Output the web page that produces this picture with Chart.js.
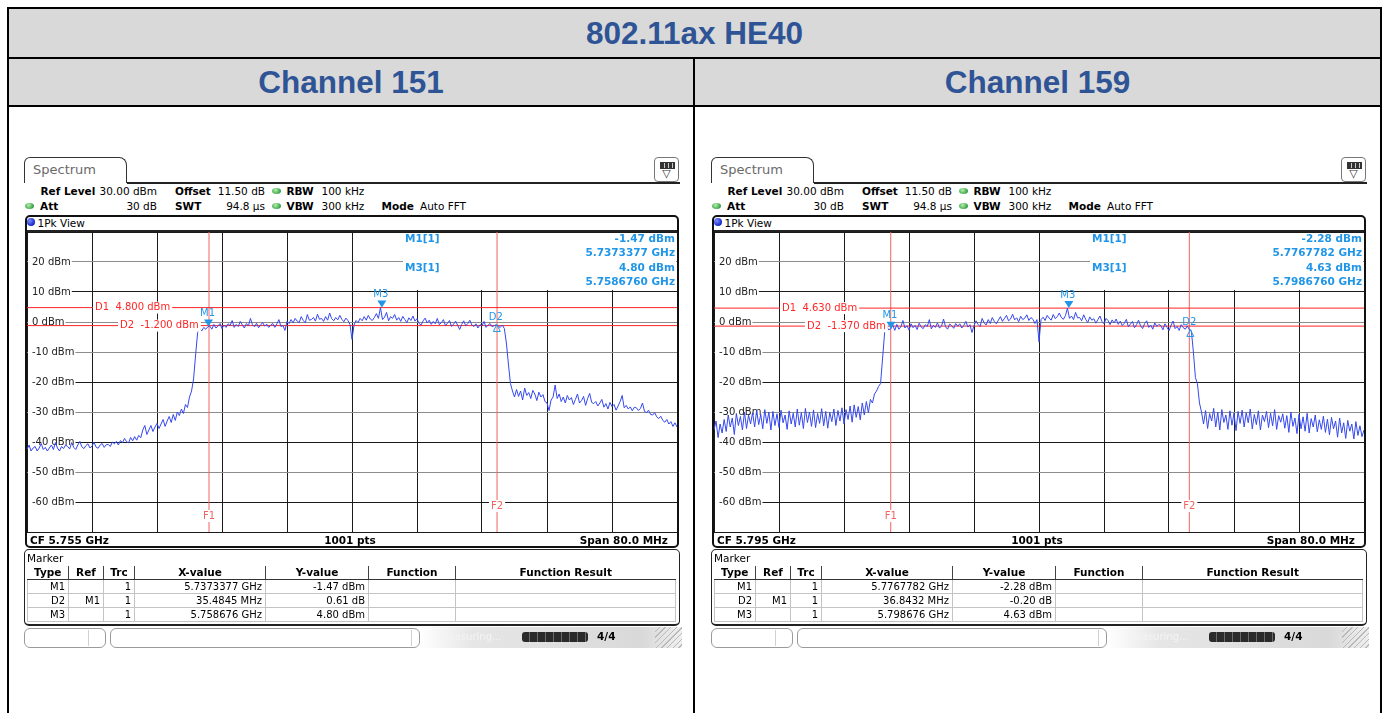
<!DOCTYPE html>
<html>
<head>
<meta charset="utf-8">
<title>802.11ax HE40</title>
<script src="https://cdn.jsdelivr.net/npm/chart.js@4.4.1/dist/chart.umd.min.js"></script>
<style>
body { margin: 0; background: #fff; font-family: "DejaVu Sans", sans-serif; }
#page { position: relative; width: 1388px; height: 713px; overflow: hidden; }
.ln { position: absolute; background: #000; }
.cap { position: absolute; background: #d9d9d9; color: #2f5496; font: bold 31.5px "Liberation Sans", Arial, sans-serif;
       display: flex; align-items: center; justify-content: center; }
.pan { position: absolute; left: 0; top: 0; width: 700px; height: 713px; }
.tx { position: absolute; white-space: nowrap; font-size: 10.5px; line-height: 14px; color: #000; }
.b { font-weight: bold; }
.r { transform: translateX(-100%); }
.c { transform: translateX(-50%); }
.spec { font-size: 13px; color: #6a6a6a; }
.dot { position: absolute; width: 9px; height: 6px; border-radius: 50%;
       background: radial-gradient(circle at 40% 35%, #b4f0aa, #2f9c40 75%); }
.tab { position: absolute; left: 24px; top: 157px; width: 103px; height: 26px; box-sizing: border-box;
       border: 1.5px solid #333; border-bottom: none; border-radius: 6px 8px 0 0; }
.icon { position: absolute; left: 654px; top: 157px; width: 25px; height: 25px; box-sizing: border-box;
        border: 1px solid #777; border-radius: 4px; background: #fff; }
.bat { position: absolute; left: 5px; top: 4px; width: 13px; height: 5px; background: repeating-linear-gradient(90deg, #333 0 3px, #ccc 3px 4px); border: 1px solid #333; }
.tri { position: absolute; left: 0; width: 23px; top: 9px; text-align: center; font-size: 11px; color: #333; }
.frame { position: absolute; left: 25px; top: 215px; width: 654px; height: 333px; box-sizing: border-box;
         border: 2px solid #111; border-radius: 5px; }
.bdot { position: absolute; left: 27px; top: 218px; width: 8px; height: 8px; border-radius: 50%;
        background: radial-gradient(circle at 35% 35%, #7d8cff, #1226c8 70%); }
.mbox { position: absolute; left: 24px; top: 549px; width: 656px; height: 77px; box-sizing: border-box;
        border: 1.5px solid #222; border-bottom-width: 2.5px; border-radius: 5px; }
.mt { position: absolute; left: 27px; top: 566px; width: 648px; border-collapse: collapse; table-layout: fixed; font-size: 10px; }
.mt th { height: 13px; padding: 0; font-weight: bold; font-size: 10.5px; line-height: 13px; border-left: 1.5px solid #444; border-bottom: 1.5px solid #333; }
.mt th:first-child { border-left: none; }
.mt td { height: 13px; padding: 0 3px 0 0; text-align: right; line-height: 13px; border: 1px solid #c4c4c4; white-space: nowrap; }
.sbx { position: absolute; top: 628px; height: 20px; box-sizing: border-box; border: 1px solid #9a9a9a; border-radius: 6px; background: #fff; }
.sbs { position: absolute; top: 630px; width: 1px; height: 16px; background: #d0d0d0; }
.sbg { position: absolute; left: 420px; top: 627px; width: 262px; height: 21px;
       background: linear-gradient(90deg, #ffffff 0%, #e6e6e6 20%, #d9d9d9 85%, #efefef 100%); }
.hatch { position: absolute; left: 655px; top: 627px; width: 27px; height: 21px;
         background: repeating-linear-gradient(135deg, transparent 0 3px, #b9b9b9 3px 4px); }
.prog { position: absolute; left: 522px; top: 632px; width: 66px; height: 10px; border-radius: 3px;
        background: repeating-linear-gradient(90deg, #2a2a2a 0 7px, #6a6a6a 7px 8px); }
.meas { color: #f4f4f4; font-size: 10px; }
</style>
</head>
<body>
<div id="page">
  <div class="cap" style="left:9px;top:9px;width:1371px;height:48px">802.11ax HE40</div>
  <div class="cap" style="left:9px;top:59px;width:684px;height:46px">Channel 151</div>
  <div class="cap" style="left:695px;top:59px;width:685px;height:46px">Channel 159</div>
  <div class="ln" style="left:7px;top:7px;width:1375px;height:2px"></div>
  <div class="ln" style="left:7px;top:57px;width:1375px;height:2px"></div>
  <div class="ln" style="left:7px;top:105px;width:1375px;height:2px"></div>
  <div class="ln" style="left:7px;top:7px;width:2px;height:706px"></div>
  <div class="ln" style="left:1380px;top:7px;width:2px;height:706px"></div>
  <div class="ln" style="left:693px;top:57px;width:2px;height:656px"></div>
</div>
<script>
// Lưới tần số: 321 điểm, bước 0.25 MHz, từ CF-40 đến CF+40 MHz
const freqStep = 0.25;

// Mức tín hiệu (dBm) - kênh 151
const traceCh151 = [
  -42.5, -41, -43, -42, -41.5, -43, -42, -40.5, -42.5, -41.8, -43, -42, -41, -42.5, -40.2, -42, -43, -41.5, -42.2, -41,
  -41.5, -42.3, -40.2, -41.8, -42.5, -41, -39.8, -41.6, -42.2, -41.2, -40.6, -42, -41.4, -40.1, -41.7, -42.1, -41, -40.5, -41.8, -40.9,
  -40.8, -41.5, -40, -40.6, -39.8, -41, -39.5, -40.2, -38.8, -39.9, -40.3, -38.5, -39.6, -38.2, -39.4, -37.8, -38.6, -36, -34.5, -37.5,
  -36, -34.5, -36.5, -35, -33.8, -35.5, -34, -32.5, -34.8, -33, -31.5, -33.5, -30.8, -32.8, -30, -31.2, -29, -30.5, -27.5, -28.5,
  -25, -23, -19, -11, -3.5, -2.2, -3, -1.8, -2.4, -1.6, -1.4, -2.4, -0.8, -2, -1.4, -0.5, -2.2, -1, -1.8, -0.6,
  -1.2, 0.5, -1.8, -0.8, -1.5, 0.2, -1, -2, -0.5, -1.3, 1.2, -0.9, -1.6, -0.4, -1.9, -1, -0.2, -1.4, -0.7, -1.8,
  -1, -0.5, -1.8, -0.6, 0.8, -1.5, -1.2, -2.8, 0.2, -0.5, 0.8, -0.3, 1.2, 0.3, -0.2, 1.8, 0.5, -0.3, 2.5, 0.6,
  0.8, 1.5, 0.3, 2.6, 0.9, 1.2, 0.2, 1.8, 0.6, 3, 1.1, 0.4, 1.5, 0.7, 2.2, 0.9, 0.1, 1.3, 0.5, -0.8,
  -5.8, -1, 0.5, -0.2, 1.2, 0.4, 1.8, 0.6, 2.2, 1, 0.5, 1.5, 2.8, 1.2, 4.8, 0.8, 1.6, 3.2, 0.4, 1.8,
  1.2, 2.5, 0.6, 1.5, 0.2, 1.9, 0.8, -0.2, 1.4, 0.5, 2, 0.3, 1.1, -0.5, -1, 0.4, 1.3, -0.3, 0.6, -0.8,
  0.2, -0.6, 1.2, -0.9, -0.2, 0.8, -1.2, -0.4, 0.5, -1.5, -0.7, 0.3, -1.1, -2.5, -0.8, 0.4, -1.3, -0.5, 0.6, -1,
  -1.5, -0.6, -2, -0.9, -1.3, 0.2, -1.8, -1, -0.5, -1.6, -1.2, -0.9, -1.4, -1.8, -1, -2.2, -7, -14, -20.5, -23,
  -25, -22.5, -24.8, -23, -26, -22, -24.5, -23.5, -25.5, -22.8, -24, -26.2, -23.4, -25, -24.2, -26.5, -27, -29.5, -26, -25,
  -21, -25.5, -24, -26.5, -25, -27, -24.5, -26, -25.2, -27.5, -25.8, -24, -27, -26.2, -24.8, -27.8, -25.5, -23.8, -26.8, -27.2,
  -26.5, -28, -27, -25.8, -28.4, -27.2, -29, -26.8, -28.2, -27.5, -29.4, -28, -26.5, -24.5, -28.6, -27.8, -29, -28.3, -29.6, -28.4,
  -28.6, -29.5, -28.8, -27, -29.8, -30.2, -29.4, -30.8, -31, -30.2, -31.6, -32.2, -31.4, -32.8, -33.4, -32.5, -34, -33.2, -34.8, -33.6,
  -35
];

// Mức tín hiệu (dBm) - kênh 159
const traceCh159 = [
  -36, -33, -38.5, -34, -37, -32.5, -36.5, -31, -35, -32, -37.5, -30.5, -34.5, -31.5, -36, -30, -35.5, -31, -34, -30.2,
  -35, -29.5, -34.2, -30.8, -35.6, -29.2, -33.8, -30, -36, -29.8, -34.5, -30.6, -35.2, -29.4, -33.6, -31, -35.8, -29.6, -34, -30.4,
  -35, -29, -34.4, -30.2, -35.5, -28.8, -33.5, -30, -34.8, -29.3, -35.2, -30.5, -33.8, -28.9, -34.6, -29.8, -35.4, -30.1, -33.2, -29,
  -34.5, -29.5, -33, -28.6, -34, -29.2, -32.5, -28, -33.4, -27.6, -31.8, -28.2, -32.6, -27, -31, -26.5, -30.2, -25.8, -27, -24,
  -23, -21.5, -20.5, -12, -3.5, -1.5, -2.6, -2.3, -1, -2.8, -0.8, -2.4, -1.6, 0.5, -2, -1.2, -2.7, -0.6, -1.9, -1.1,
  -2.5, -0.4, -1.7, -2.2, -0.9, -1.5, 0.8, -2.3, -1.1, -1.8, -0.3, -2, -1.4, 1, -1.6, -2.4, -0.7, -1.2, -2.1, -0.5,
  -1.4, -0.6, -2, -1.1, 0.2, -1.7, -0.9, -3.5, -1.2, 0.4, -0.8, -1.5, 1.2, -0.3, -1, 0.8, -0.5, 1.5, 0.2, -0.6,
  0.6, 1.8, 0.2, 1.2, 2.2, 0.4, 1, 2.6, 0.7, 1.4, 0.1, 1.9, 0.8, 1.3, 2.4, 0.5, 1.5, 0.9, -0.5, 0.8,
  -6.6, 0.8, 1.6, 0.5, 2.2, 1.3, 0.6, 2.5, 1.1, 1.8, 3, 1.5, 0.9, 2.1, 4.6, 1.2, 2, 0.8, 3.2, 1.4,
  1.5, 0.4, 2.4, 0.9, -0.2, 1.7, 0.6, 1.1, -0.4, 0.8, 2, 0.2, -0.6, 1.2, 0.5, -0.9, 0.7, -0.3, 1, -0.8,
  0.3, -1.2, -0.4, 0.9, -1.6, -0.7, 0.2, -1.9, -0.9, 0.6, -1.3, -2.2, -0.5, 0.4, -1.8, -1, -2.4, -0.3, -1.5, -0.8,
  -1.2, -2.6, -0.6, -1.8, -2.9, -1.1, 0.3, -2.2, -1.5, -2.8, -0.9, -1.9, -2.4, -1.3, -2.5, -2.9, -10, -18.5, -20.6, -27,
  -30, -34, -29.5, -35.5, -30.5, -33, -28.8, -35, -30, -36, -29.2, -33.5, -31, -35.8, -29.6, -34.4, -30.4, -36.2, -29.8, -33.8,
  -29.4, -35, -30.2, -33.6, -29, -35.6, -30.8, -34.2, -29.6, -36, -31, -33.2, -29.8, -35.2, -30.4, -34.6, -29.2, -35.8, -31.2, -33.4,
  -30.6, -35.4, -31.2, -36.8, -30, -34.8, -32, -37.2, -30.8, -35.6, -31.6, -36.4, -30.4, -37, -32.2, -35, -31, -36.6, -32.6, -35.8,
  -31.4, -36.8, -32.4, -37.6, -31.8, -35.6, -33, -38.4, -32, -37, -33.6, -38.8, -32.8, -36.4, -34, -39, -33.2, -37.8, -34.6, -38.2,
  -36
];

const traces = [traceCh151, traceCh159];

// Thông số máy phân tích phổ cho từng kênh
const cfGHz = [5.755, 5.795];
const d1Line = [4.8, 4.63];       // dBm
const d2Line = [-1.2, -1.37];     // dBm
const f1Line = [-17.6, -18.25];   // MHz so với CF
const f2Line = [17.85, 18.5];
const m1GHz = [5.7373377, 5.7767782];
const m1dBm = [-1.47, -2.28];
const d2MHz = [35.4845, 36.8432];
const d2dB = [0.61, -0.20];
const m3GHz = [5.758676, 5.798676];
const m3dBm = [4.80, 4.63];

const yTicks = { min: -70, max: 30, step: 10 };
const grayGrid = [20, 0, -10, -30, -50];

const markBlue = '#2196e8';
const dRed = '#ff2626';
const fRed = '#f46262';

// vị trí vùng vẽ trong trang (panel trái)
const plotBox = { left: 27, top: 232, width: 650, height: 300 };

const page = document.getElementById('page');

const T = (x, y, s, cls) => `<div class="tx ${cls || ''}" style="left:${x}px;top:${y - 7}px">${s}</div>`;
const dot = (x, y) => `<div class="dot" style="left:${x - 4.5}px;top:${y - 3}px"></div>`;

function markerTable(i) {
    const widths = [41, 35, 31, 131, 103, 87, 220];
    const head = ['Type', 'Ref', 'Trc', 'X-value', 'Y-value', 'Function', 'Function Result'];
    const rows = [
        ['M1', '', '1', m1GHz[i].toFixed(7) + ' GHz', m1dBm[i].toFixed(2) + ' dBm', '', ''],
        ['D2', 'M1', '1', d2MHz[i].toFixed(4) + ' MHz', d2dB[i].toFixed(2) + ' dB', '', ''],
        ['M3', '', '1', m3GHz[i].toFixed(6) + ' GHz', m3dBm[i].toFixed(2) + ' dBm', '', '']
    ];
    let h = '<table class="mt"><colgroup>' + widths.map(w => `<col style="width:${w}px">`).join('') + '</colgroup>';
    h += '<tr>' + head.map(s => `<th>${s}</th>`).join('') + '</tr>';
    rows.forEach(r => { h += '<tr>' + r.map(s => `<td>${s}</td>`).join('') + '</tr>'; });
    return h + '</table>';
}

function buildPanel(i, dx) {
    const el = document.createElement('div');
    el.className = 'pan';
    el.style.left = dx + 'px';
    el.innerHTML =
        '<div class="tab"></div>' + T(33, 170, 'Spectrum', 'spec') +
        '<div class="ln" style="left:127px;top:182px;width:553px;height:2px;background:#222"></div>' +
        '<div class="icon"><div class="bat"></div><div class="tri">▽</div></div>' +
        T(40.5, 191, 'Ref Level', 'b') + T(157, 191, '30.00 dBm', 'r') +
        T(175, 191, 'Offset', 'b') + T(265, 191, '11.50 dB', 'r') + dot(276, 191) +
        T(286.5, 191, 'RBW', 'b') + T(321.5, 191, '100 kHz') +
        dot(29, 206) + T(40, 206, 'Att', 'b') + T(157, 206, '30 dB', 'r') +
        T(175, 206, 'SWT', 'b') + T(265, 206, '94.8 µs', 'r') + dot(276, 206) +
        T(286.5, 206, 'VBW', 'b') + T(321.5, 206, '300 kHz') +
        T(381.5, 206, 'Mode', 'b') + T(420, 206, 'Auto FFT') +
        '<div class="frame"></div><div class="bdot"></div>' + T(37.5, 222.5, '1Pk View') +
        '<div class="ln" style="left:27px;top:230px;width:650px;height:2px;background:#222"></div>' +
        '<canvas width="652" height="302" style="position:absolute;left:26px;top:231px"></canvas>' +
        T(30, 540, 'CF ' + cfGHz[i].toFixed(3) + ' GHz', 'b') + T(350, 540, '1001 pts', 'b c') +
        T(668, 540, 'Span 80.0 MHz', 'b r') +
        '<div class="mbox"></div>' + T(27, 558, 'Marker') + markerTable(i) +
        '<div class="sbg"></div><div class="hatch"></div>' +
        '<div class="sbx" style="left:24px;width:82px"></div><div class="sbs" style="left:88px"></div>' +
        '<div class="sbx" style="left:110px;width:310px"></div><div class="sbs" style="left:411px"></div>' +
        T(440, 637, 'Measuring...', 'meas') + '<div class="prog"></div>' +
        T(597, 636, '4/4', 'b');
    page.appendChild(el);
    return el.querySelector('canvas');
}

// Vẽ nhãn, marker và khung thông tin marker
const rsOverlay = {
    id: 'rsOverlay',
    beforeDatasetsDraw(chart) {
        const { ctx, chartArea: a, scales: { y } } = chart;
        ctx.save();
        ctx.fillStyle = '#fff';
        ctx.fillRect(a.right - 274, a.top + 1, 273, y.getPixelForValue(10) - a.top - 3);
        ctx.restore();
    },
    afterDatasetsDraw(chart, args, opts) {
        const i = opts.panel;
        const { ctx, chartArea: a, scales: { x, y } } = chart;
        ctx.save();
        ctx.textBaseline = 'middle';
        ctx.font = '10px "DejaVu Sans"';

        function boxText(s, px, py, color, align) {
            const w = ctx.measureText(s).width;
            const left = align === 'center' ? px - w / 2 : px;
            ctx.fillStyle = '#fff';
            ctx.fillRect(left - 2, py - 6, w + 4, 12);
            ctx.fillStyle = color;
            ctx.textAlign = 'left';
            ctx.fillText(s, left, py);
        }

        // nhãn đường D1 / D2
        boxText('D1  ' + d1Line[i].toFixed(3) + ' dBm', a.left + 68, y.getPixelForValue(d1Line[i]), dRed);
        boxText('D2  ' + d2Line[i].toFixed(3) + ' dBm', a.left + 93, y.getPixelForValue(d2Line[i]), dRed);
        // nhãn đường F1 / F2
        boxText('F1', x.getPixelForValue(f1Line[i]), a.bottom - 16, fRed, 'center');
        boxText('F2', x.getPixelForValue(f2Line[i]), a.bottom - 26, fRed, 'center');

        // marker M1, M3 (tam giác đặc), D2 (tam giác rỗng)
        const m1x = (m1GHz[i] - cfGHz[i]) * 1000;
        const m3x = (m3GHz[i] - cfGHz[i]) * 1000;
        const d2x = m1x + d2MHz[i];
        const d2y = m1dBm[i] + d2dB[i];
        ctx.fillStyle = markBlue;
        ctx.strokeStyle = markBlue;
        ctx.textAlign = 'center';
        [[m1x, m1dBm[i], 'M1'], [m3x, m3dBm[i], 'M3']].forEach(([fx, lv, name]) => {
            const px = x.getPixelForValue(fx), py = y.getPixelForValue(lv);
            ctx.beginPath();
            ctx.moveTo(px, py);
            ctx.lineTo(px - 4.5, py - 7);
            ctx.lineTo(px + 4.5, py - 7);
            ctx.closePath();
            ctx.fill();
            ctx.fillText(name, px - 1, py - 13);
        });
        const dpx = x.getPixelForValue(d2x), dpy = y.getPixelForValue(d2y);
        ctx.lineWidth = 1;
        ctx.beginPath();
        ctx.moveTo(dpx, dpy);
        ctx.lineTo(dpx - 3.5, dpy + 7);
        ctx.lineTo(dpx + 3.5, dpy + 7);
        ctx.closePath();
        ctx.stroke();
        ctx.fillText('D2', dpx - 1, dpy - 7);

        // khung thông tin marker góc trên phải
        ctx.font = 'bold 10.5px "DejaVu Sans"';
        ctx.textAlign = 'left';
        ctx.fillText('M1[1]', a.left + 378, a.top + 7);
        ctx.fillText('M3[1]', a.left + 378, a.top + 36);
        ctx.textAlign = 'right';
        ctx.fillText(m1dBm[i].toFixed(2) + ' dBm', a.right - 2, a.top + 7);
        ctx.fillText(m1GHz[i].toFixed(7) + ' GHz', a.right - 2, a.top + 21);
        ctx.fillText(m3dBm[i].toFixed(2) + ' dBm', a.right - 2, a.top + 36);
        ctx.fillText(m3GHz[i].toFixed(7) + ' GHz', a.right - 2, a.top + 50);
        ctx.restore();
    }
};

function makeChart(canvas, i) {
    const pts = traces[i].map((v, k) => ({ x: -40 + k * freqStep, y: v }));
    const hLine = v => [{ x: -40, y: v }, { x: 40, y: v }];
    const vLine = f => [{ x: f, y: yTicks.min }, { x: f, y: yTicks.max }];
    return new Chart(canvas, {
        type: 'line',
        data: {
            datasets: [
                { data: pts, borderColor: '#3548ee', borderWidth: 1, pointRadius: 0, order: 1 },
                { data: hLine(d1Line[i]), borderColor: dRed, borderWidth: 1, pointRadius: 0, order: 2 },
                { data: hLine(d2Line[i]), borderColor: dRed, borderWidth: 1, pointRadius: 0, order: 2 },
                { data: vLine(f1Line[i]), borderColor: fRed, borderWidth: 1, pointRadius: 0, order: 3 },
                { data: vLine(f2Line[i]), borderColor: fRed, borderWidth: 1, pointRadius: 0, order: 3 }
            ]
        },
        options: {
            responsive: false,
            animation: false,
            devicePixelRatio: 1,
            events: [],
            layout: { padding: 0, autoPadding: false },
            plugins: { legend: { display: false }, tooltip: { enabled: false }, rsOverlay: { panel: i } },
            scales: {
                x: {
                    type: 'linear', min: -40, max: 40,
                    ticks: { display: false, stepSize: 8 },
                    grid: { color: '#1a1a1a', drawTicks: false },
                    border: { display: false }
                },
                y: {
                    min: yTicks.min, max: yTicks.max,
                    ticks: {
                        stepSize: yTicks.step, mirror: true, padding: 5, color: '#222',
                        font: { family: 'DejaVu Sans', size: 10 },
                        callback: v => (v < yTicks.max && v > yTicks.min) ? v + ' dBm' : '',
                        showLabelBackdrop: c => !!c.tick && c.tick.value < yTicks.max && c.tick.value > yTicks.min,
                        backdropColor: '#fff',
                        backdropPadding: { left: 4, right: 1, top: 0, bottom: 0 }
                    },
                    grid: {
                        color: c => (c.tick && grayGrid.includes(c.tick.value)) ? '#8c8c8c' : '#1a1a1a',
                        drawTicks: false
                    },
                    border: { display: false }
                }
            }
        },
        plugins: [rsOverlay]
    });
}

// Đo khoảng đệm Chart.js tự thêm rồi đặt lại canvas để vùng vẽ khớp khung
function placeChart(canvas, i) {
    const probe = makeChart(canvas, i);
    const a = probe.chartArea;
    const ml = Math.round(a.left), mt = Math.round(a.top);
    const mr = Math.round(probe.width - a.right), mb = Math.round(probe.height - a.bottom);
    probe.destroy();
    const w = ml + plotBox.width + mr, h = mt + plotBox.height + mb;
    canvas.width = w;
    canvas.height = h;
    canvas.style.width = w + 'px';
    canvas.style.height = h + 'px';
    canvas.style.left = (plotBox.left - ml) + 'px';
    canvas.style.top = (plotBox.top - mt) + 'px';
    return makeChart(canvas, i);
}

placeChart(buildPanel(0, 0), 0);
placeChart(buildPanel(1, 687), 1);
</script>
</body>
</html>
